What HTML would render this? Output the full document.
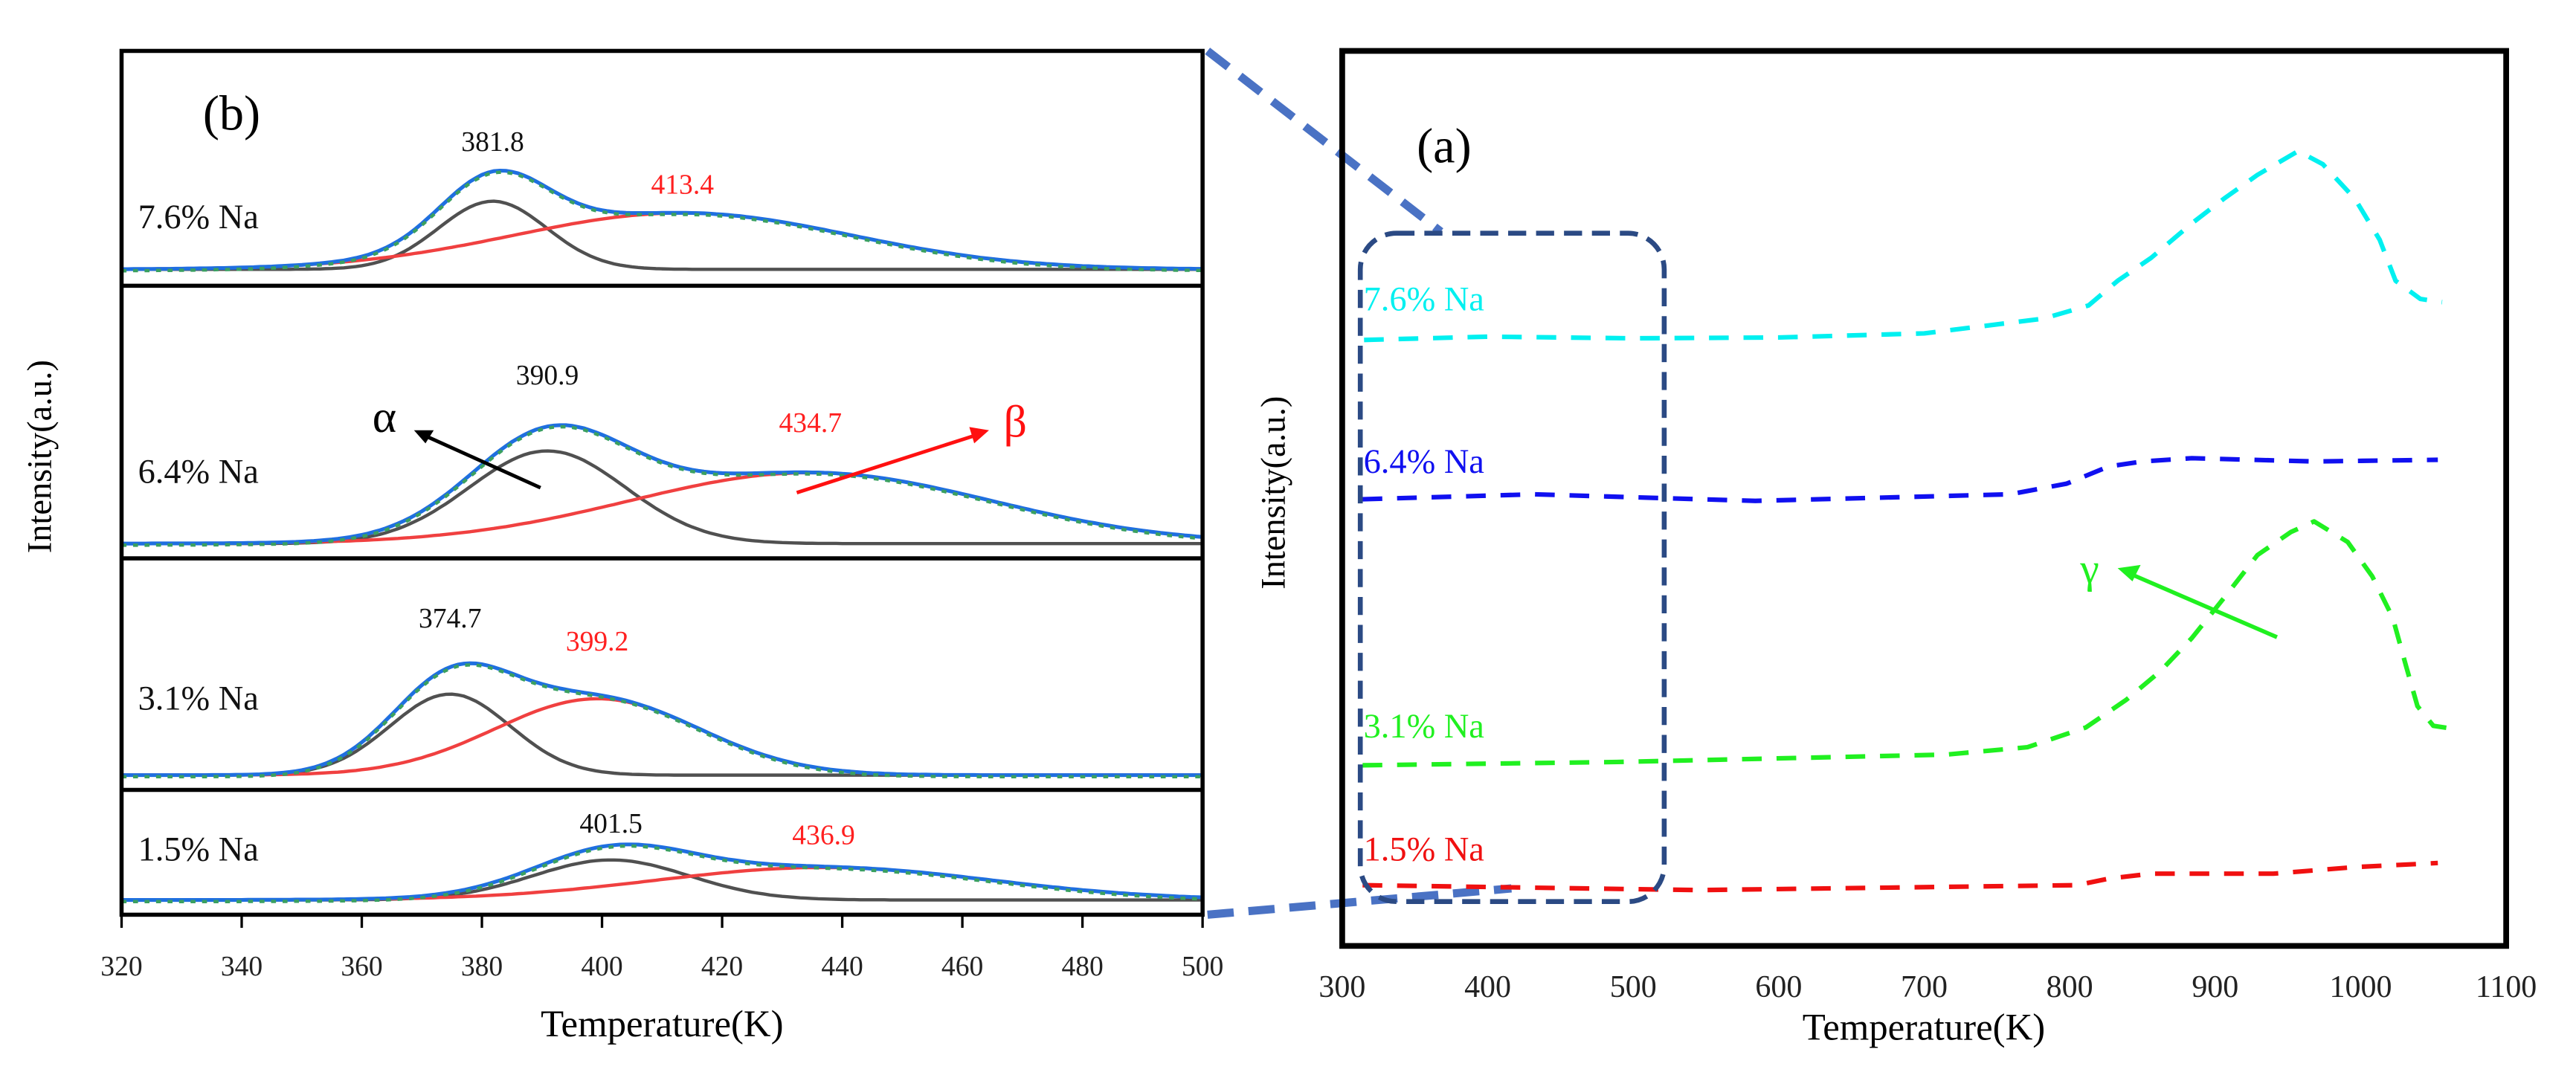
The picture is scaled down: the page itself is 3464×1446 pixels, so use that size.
<!DOCTYPE html>
<html><head><meta charset="utf-8"><style>
html,body{margin:0;padding:0;background:#fff;}
svg{display:block;font-family:"Liberation Serif",serif;}
</style></head><body>
<svg id="fig" width="3464" height="1446" viewBox="0 0 1568 654.6" preserveAspectRatio="none" xmlns="http://www.w3.org/2000/svg">
<rect width="1568" height="654.6" fill="#fff"/>
<line x1="735" y1="31" x2="877" y2="141" stroke="#4a72c4" stroke-width="5" stroke-dasharray="16,9"/>
<line x1="735" y1="557" x2="920" y2="541" stroke="#4a72c4" stroke-width="5" stroke-dasharray="16,9"/>
<g id="left"></g>
<g id="right"></g>
</svg>
<script>
// ---- Panel (b) data: Gaussian peak fits per sample ----
const bLabels = ["7.6% Na","6.4% Na","3.1% Na","1.5% Na"];
const alphaCenters = [381.8, 390.9, 374.7, 401.5];
const alphaHeights = [0.29, 0.34, 0.35, 0.32];
const alphaWidths = [9, 13, 10, 13];
const betaCenters = [413.4, 434.7, 399.2, 436.9];
const betaHeights = [0.24, 0.26, 0.33, 0.26];
const betaWidths = [28, 30, 17, 28];
const bTicks = [320,340,360,380,400,420,440,460,480,500];
// ---- Panel (a) data ----
const aTicks = [300,400,500,600,700,800,900,1000,1100];
const aSeriesNames = ["7.6% Na","6.4% Na","3.1% Na","1.5% Na"];
const cyanT = [315,400,500,600,700,782,813,833,856,884,906,929,957,974,996,1013,1024,1041,1056];
const cyanY = [207,205,206,205.5,203,194,186,171,157,136,121,106.5,92,100,121,146,171,182,184];
const blueT = [314,432,584,759,798,827,850,884,968,1053];
const blueY = [304,301,305,301,294.5,284,281,279,281,280];
const greenT = [314,489,715,771,811,839,862,884,907,929,952,968,991,1008,1022,1031,1039,1050,1062];
const greenY = [466,464,459.5,455,443,426,409,388.5,363,338,324,317.5,330,351,376,405,430,442,443.6];
const redT = [314,545,805,827,856,940,996,1053];
const redY = [539,542,539,535,532,532,528,525.5];

const NS="http://www.w3.org/2000/svg";
function mk(tag,attrs,parent,text){const e=document.createElementNS(NS,tag);for(const k in attrs)e.setAttribute(k,attrs[k]);if(text!==undefined)e.textContent=text;parent.appendChild(e);return e;}

const L=document.getElementById('left');
const bx0=74,bx1=732;
const bX=t=>bx0+(t-320)/180*(bx1-bx0);
const panTop=[31,174,340,481], panBot=[174,340,481,557], base=[164,331,472,548];
const gauss=(t,c,h,w)=>h*Math.exp(-0.5*((t-c)/w)**2);
for(let i=0;i<4;i++){
  const H=panBot[i]-panTop[i];
  const Y=v=>base[i]-v*H;
  let pa="",pb="",ps="";
  for(let t=320;t<=500;t+=1){
    const a=gauss(t,alphaCenters[i],alphaHeights[i],alphaWidths[i]);
    const b=gauss(t,betaCenters[i],betaHeights[i],betaWidths[i]);
    const c=t===320?"M":"L";
    pa+=c+bX(t).toFixed(1)+","+Y(a).toFixed(1);
    pb+=c+bX(t).toFixed(1)+","+Y(b).toFixed(1);
    ps+=c+bX(t).toFixed(1)+","+Y(a+b).toFixed(1);
  }
  const ea=mk('path',{d:pa,fill:"none",stroke:"#505050","stroke-width":2},L);
  
  
  const eb=mk('path',{d:pb,fill:"none",stroke:"#f04040","stroke-width":2},L);
  
  
  const es=mk('path',{d:ps,fill:"none",stroke:"#1f6fe0","stroke-width":2.3},L);
  
  
  const eg=mk('path',{d:ps,fill:"none",stroke:"#3aa060","stroke-width":2,"stroke-dasharray":"3,4",transform:"translate(0,1)"},L);
  
  
  const lab=mk('text',{x:84,y:[139,294,432,524][i],"font-size":21,fill:"#111"},L,bLabels[i]);
  
  
  const la=mk('text',{x:bX(alphaCenters[i]),y:[92,234,382,507][i],"font-size":17,"text-anchor":"middle",fill:"#111"},L,alphaCenters[i].toFixed(1));
  
  
  const lb=mk('text',{x:bX(betaCenters[i]),y:[118,263,396,514][i],"font-size":17,"text-anchor":"middle",fill:"#ff2020"},L,betaCenters[i].toFixed(1));
  
  
}
mk('rect',{x:bx0,y:31,width:bx1-bx0,height:526,fill:"none",stroke:"#000","stroke-width":2.5,},L);
[174,340,481].forEach(y=>mk('line',{x1:bx0,x2:bx1,y1:y,y2:y,stroke:"#000","stroke-width":2.5,},L));
bTicks.forEach(t=>{
  const tk=mk('line',{x1:bX(t),x2:bX(t),y1:557,y2:565,stroke:"#000","stroke-width":1.5},L);
  
  
  const tl=mk('text',{x:bX(t),y:594,"font-size":17,"text-anchor":"middle",fill:"#222"},L,String(t));
  
  
});
mk('text',{x:403,y:631,"font-size":23,"text-anchor":"middle",},L,"Temperature(K)");
mk('text',{x:0,y:0,"font-size":21,"text-anchor":"middle",transform:"translate(31,278) rotate(-90)",},L,"Intensity(a.u.)");
mk('text',{x:141,y:79,"font-size":30,"text-anchor":"middle",},L,"(b)");
mk('line',{x1:329,y1:297,x2:258,y2:265,stroke:"#000","stroke-width":2.2,},L);
mk('polygon',{points:"252,262 264,262 259,270",fill:"#000",},L);
mk('text',{x:234,y:263,"font-size":28,"text-anchor":"middle",},L,"α");
mk('line',{x1:485,y1:300,x2:594,y2:265,stroke:"#ff1010","stroke-width":2.2,},L);
mk('polygon',{points:"602,262 590,260 593,270",fill:"#ff1010",},L);
mk('text',{x:618,y:266,"font-size":28,"text-anchor":"middle",fill:"#ff1010",},L,"β");

const R=document.getElementById('right');
const ax0=817,ax1=1525.5;
const aX=t=>ax0+(t-300)/800*(ax1-ax0);
const colors=["#00f0f0","#1010f0","#20f020","#f01010"];
const allT=[cyanT,blueT,greenT,redT], allY=[cyanY,blueY,greenY,redY];
for(let i=0;i<4;i++){
  let d="";
  allT[i].forEach((t,j)=>{d+=(j?"L":"M")+aX(t).toFixed(1)+","+allY[i][j];});
  const p=mk('path',{d:d,fill:"none",stroke:colors[i],"stroke-width":2.8,"stroke-dasharray":"12,9","stroke-linejoin":"round"},R);
  
  
  const t=mk('text',{x:830,y:[189,288,449,524][i],"font-size":21,fill:colors[i]},R,aSeriesNames[i]);
  
  
}
mk('rect',{x:828,y:142,width:185,height:407,rx:22,ry:22,fill:"none",stroke:"#2b4a84","stroke-width":3,"stroke-dasharray":"11,6",},R);
mk('rect',{x:ax0,y:31,width:ax1-ax0,height:545,fill:"none",stroke:"#000","stroke-width":3.5,},R);
aTicks.forEach(t=>{
  const tl=mk('text',{x:aX(t),y:607,"font-size":19,"text-anchor":"middle",fill:"#222"},R,String(t));
  
  
});
mk('text',{x:1171,y:633,"font-size":23,"text-anchor":"middle",},R,"Temperature(K)");
mk('text',{x:0,y:0,"font-size":21,"text-anchor":"middle",transform:"translate(782,300) rotate(-90)",},R,"Intensity(a.u.)");
mk('text',{x:879,y:99,"font-size":30,"text-anchor":"middle",},R,"(a)");
mk('line',{x1:1386,y1:388,x2:1298,y2:350,stroke:"#20f020","stroke-width":2.5,},R);
mk('polygon',{points:"1289,346 1303,344 1298,354",fill:"#20f020",},R);
mk('text',{x:1272,y:355,"font-size":26,"text-anchor":"middle",fill:"#20f020",},R,"γ");
</script>
</body></html>
